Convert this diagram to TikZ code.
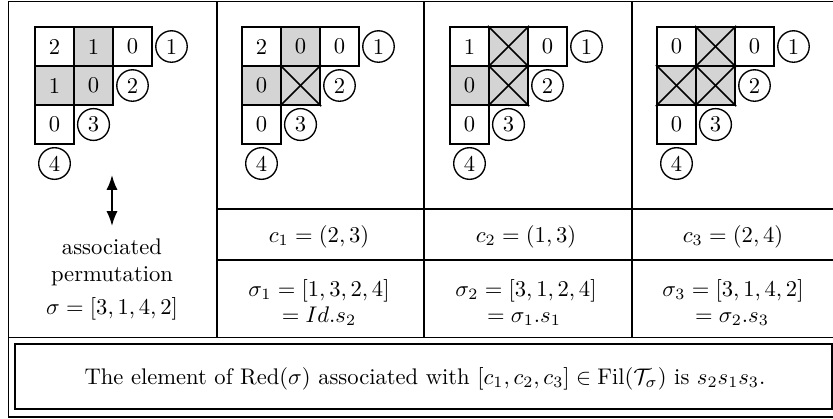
\documentclass[tikz,border=0pt]{standalone}
\usetikzlibrary{positioning, arrows.meta}
\colorlet{shade}{black!17}

\begin{document}
\begin{tikzpicture}[
    x=0.4425pt, y=-0.4425pt,
    cell/.style={rectangle, draw, line width=1pt, minimum size=17.26pt, inner sep=0pt},
    num/.style={circle, draw, semithick, inner sep=2pt},
    rule/.style={semithick},
    divider/.style={thick},
    cross/.style={line width=0.7pt},
    txt/.style={anchor=base}
]
\useasboundingbox (0,0) rectangle (833,418);

% Cadre
\draw[rule] (8.7,1.8) rectangle (838,417);
\draw[divider] (217,1.8) -- (217,337.5);
\draw[divider] (424,1.8) -- (424,337.5);
\draw[divider] (632,1.8) -- (632,337.5);
\draw[rule] (217,209) -- (838,209);
\draw[rule] (217,260) -- (838,260);
\draw[rule] (8.7,337.5) -- (838,337.5);
\draw[rule] (15,344) rectangle (832,409);

% Tableaux
\foreach \r/\c/\v/\f in {1/1/2/white, 1/2/1/shade, 1/3/0/white, 2/1/1/shade, 2/2/0/shade, 3/1/0/white}
  \node[cell, fill=\f] (a\r\c) at (35+39*\c-19.5, 27+39*\r-19.5) {\v};
\foreach \r/\c/\v/\f in {1/1/2/white, 1/2/0/shade, 1/3/0/white, 2/1/0/shade, 2/2/{}/shade, 3/1/0/white}
  \node[cell, fill=\f] (b\r\c) at (242+39*\c-19.5, 27+39*\r-19.5) {\v};
\foreach \r/\c/\v/\f in {1/1/1/white, 1/2/{}/shade, 1/3/0/white, 2/1/0/shade, 2/2/{}/shade, 3/1/0/white}
  \node[cell, fill=\f] (c\r\c) at (450+39*\c-19.5, 27+39*\r-19.5) {\v};
\foreach \r/\c/\v/\f in {1/1/0/white, 1/2/{}/shade, 1/3/0/white, 2/1/{}/shade, 2/2/{}/shade, 3/1/0/white}
  \node[cell, fill=\f] (d\r\c) at (657+39*\c-19.5, 27+39*\r-19.5) {\v};

% Croix
\foreach \n in {b22, c12, c22, d12, d21, d22} {
  \draw[cross] (\n.north west) -- (\n.south east);
  \draw[cross] (\n.north east) -- (\n.south west);
}

% Numeros
\foreach \p/\ox in {a/35, b/242, c/450, d/657} {
  \foreach \k/\len in {1/3, 2/2, 3/1, 4/0}
    \node[num] (\p-n\k) at (\ox+39*\len+19.5, 27+39*\k-19.5) {\k};
}

% Permutation associee
\coordinate (haut) at (112,175);
\coordinate (bas) at (112,226);
\draw[thick, {Latex}-{Latex}] (haut) -- (bas);
\node[txt] (assoc) at (112,254) {associated};
\node[txt] (perm) at (112,281) {permutation};
\node[txt] (sigma) at (112,314) {$\sigma=[3,1,4,2]$};

% Transpositions
\node[txt] (c1) at (319,242) {$c_1=(2,3)$};
\node[txt] (c2) at (526,242) {$c_2=(1,3)$};
\node[txt] (c3) at (733,242) {$c_3=(2,4)$};

% Permutations
\node[txt] (s1) at (319,296) {$\sigma_1=[1,3,2,4]$};
\node[txt] (s2) at (526,296) {$\sigma_2=[3,1,2,4]$};
\node[txt] (s3) at (733,296) {$\sigma_3=[3,1,4,2]$};
\node[txt] (e1) at (319,322) {$=Id.s_2$};
\node[txt] (e2) at (524,322) {$=\sigma_1.s_1$};
\node[txt] (e3) at (732,322) {$=\sigma_2.s_3$};

% Resultat
\node[txt] (res) at (425,384) {The element of $\mathrm{Red}(\sigma)$ associated with $[c_1,c_2,c_3]\in\mathrm{Fil}(\mathcal{T}_\sigma)$ is $s_2s_1s_3$.};

\end{tikzpicture}
\end{document}
